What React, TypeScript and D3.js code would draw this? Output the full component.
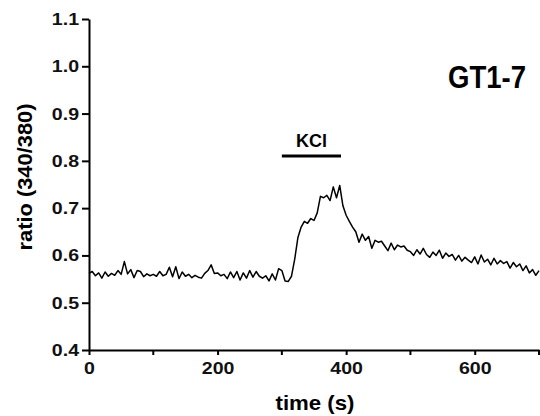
import React, { useEffect, useRef } from "react";
import * as d3 from "d3";

const width = 540;
const height = 416;

// sampled every 5 s, 0..700
const times = d3.range(0, 701, 5);
const ratio = [
  0.562, 0.566, 0.557, 0.563, 0.552, 0.565, 0.556, 0.562, 0.558, 0.568,
  0.560, 0.587, 0.561, 0.570, 0.553, 0.568, 0.566, 0.555, 0.561, 0.557,
  0.560, 0.556, 0.566, 0.557, 0.560, 0.575, 0.555, 0.576, 0.551, 0.565,
  0.556, 0.560, 0.553, 0.558, 0.554, 0.552, 0.562, 0.568, 0.580, 0.562,
  0.563, 0.557, 0.560, 0.551, 0.565, 0.553, 0.566, 0.548, 0.563, 0.552,
  0.568, 0.554, 0.566, 0.556, 0.552, 0.557, 0.546, 0.561, 0.548, 0.572,
  0.568, 0.546, 0.545, 0.556, 0.592, 0.638, 0.660, 0.672, 0.668, 0.678,
  0.674, 0.690, 0.725, 0.722, 0.727, 0.716, 0.745, 0.722, 0.748, 0.705,
  0.685, 0.672, 0.660, 0.650, 0.628, 0.645, 0.632, 0.640, 0.615, 0.632,
  0.628, 0.630, 0.620, 0.610, 0.626, 0.612, 0.622, 0.618, 0.620, 0.611,
  0.608, 0.600, 0.612, 0.603, 0.615, 0.602, 0.596, 0.607, 0.600, 0.611,
  0.594, 0.605, 0.598, 0.602, 0.590, 0.600, 0.588, 0.596, 0.590, 0.585,
  0.597, 0.582, 0.601, 0.586, 0.592, 0.580, 0.594, 0.582, 0.589, 0.583,
  0.587, 0.573, 0.585, 0.576, 0.582, 0.568, 0.578, 0.563, 0.570, 0.558,
  0.568,
];

const xTicks = [0, 200, 400, 600];
const xMinorTicks = [100, 300, 500, 700];
const yTicks = [0.4, 0.5, 0.6, 0.7, 0.8, 0.9, 1.0, 1.1];
const stimulus = { label: "KCl", start: 300, end: 392 };
const cellLine = "GT1-7";

const font = "'Liberation Sans', Arial, sans-serif";

// widen glyphs a little, the original lettering is broader than Arial
function stretch(sel: any, factor: number) {
  sel.each(function (this: SVGTextElement) {
    const w = this.getComputedTextLength();
    d3.select(this)
      .attr("textLength", w * factor)
      .attr("lengthAdjust", "spacingAndGlyphs");
  });
}

export default function App() {
  const ref = useRef<SVGSVGElement>(null);

  useEffect(() => {
    const svg = d3.select(ref.current);
    svg.selectAll("*").remove();

    const x = d3.scaleLinear().domain([0, 700]).range([89, 539]);
    const y = d3.scaleLinear().domain([0.4, 1.1]).range([350, 19]);

    // y axis
    const yAxis = svg
      .append("g")
      .attr("transform", `translate(${x(0)},0)`)
      .call(
        d3
          .axisLeft(y)
          .tickValues(yTicks)
          .tickFormat(d3.format(".1f"))
          .tickSize(7)
          .tickPadding(3)
          .tickSizeOuter(0)
      );

    // x axis
    const xAxis = svg
      .append("g")
      .attr("transform", `translate(0,${y(0.4)})`)
      .call(
        d3
          .axisBottom(x)
          .tickValues(xTicks)
          .tickFormat(d3.format("d"))
          .tickSize(5)
          .tickPadding(7)
          .tickSizeOuter(0)
      );
    xAxis
      .selectAll(".minor")
      .data(xMinorTicks)
      .enter()
      .append("line")
      .attr("x1", (d) => x(d))
      .attr("x2", (d) => x(d))
      .attr("y1", 0)
      .attr("y2", 5)
      .attr("stroke", "#000")
      .attr("stroke-width", 2);

    [yAxis, xAxis].forEach((g) => {
      g.select(".domain").attr("stroke-width", 2);
      g.selectAll(".tick line").attr("stroke-width", 2);
      g.selectAll("text")
        .attr("font-family", font)
        .attr("font-weight", "bold")
        .attr("font-size", 17)
        .attr("fill", "#111");
      stretch(g.selectAll("text"), 1.15);
    });

    // trace
    const pts = times.map((t, i) => [t, ratio[i]] as [number, number]);
    const line = d3
      .line<[number, number]>()
      .x((d) => x(d[0]))
      .y((d) => y(d[1]));
    svg
      .append("path")
      .attr("d", line(pts))
      .attr("fill", "none")
      .attr("stroke", "#000")
      .attr("stroke-width", 1.5)
      .attr("stroke-linejoin", "round");

    // stimulus bar
    svg
      .append("line")
      .attr("x1", x(stimulus.start))
      .attr("x2", x(stimulus.end))
      .attr("y1", 156)
      .attr("y2", 156)
      .attr("stroke", "#000")
      .attr("stroke-width", 3);
    svg
      .append("text")
      .attr("x", (x(stimulus.start) + x(stimulus.end)) / 2)
      .attr("y", 147)
      .attr("text-anchor", "middle")
      .attr("font-family", font)
      .attr("font-weight", "bold")
      .attr("font-size", 18)
      .text(stimulus.label);

    svg
      .append("text")
      .attr("x", 526)
      .attr("y", 88)
      .attr("text-anchor", "end")
      .attr("font-family", font)
      .attr("font-weight", "bold")
      .attr("font-size", 31)
      .attr("textLength", 78)
      .attr("lengthAdjust", "spacingAndGlyphs")
      .text(cellLine);

    // axis titles
    svg
      .append("text")
      .attr("x", 315)
      .attr("y", 410)
      .attr("text-anchor", "middle")
      .attr("font-family", font)
      .attr("font-weight", "bold")
      .attr("font-size", 21)
      .attr("textLength", 79)
      .attr("lengthAdjust", "spacingAndGlyphs")
      .text("time (s)");
    svg
      .append("text")
      .attr("transform", "translate(32,177) rotate(-90)")
      .attr("text-anchor", "middle")
      .attr("font-family", font)
      .attr("font-weight", "bold")
      .attr("font-size", 21)
      .attr("textLength", 147)
      .attr("lengthAdjust", "spacingAndGlyphs")
      .text("ratio (340/380)");
  }, []);

  return (
    <svg
      ref={ref}
      width={width}
      height={height}
      style={{ position: "absolute", left: 0, top: 0, background: "#fff" }}
    />
  );
}
